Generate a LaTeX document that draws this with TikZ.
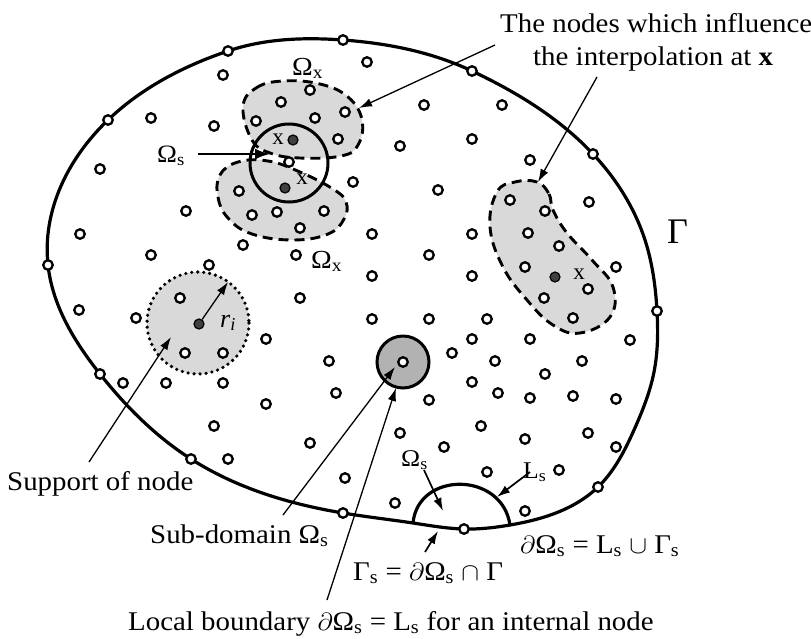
\documentclass[tikz,border=0pt]{standalone}
\usepackage{fontspec}
\setmainfont{Liberation Serif}
\usetikzlibrary{arrows.meta,hobby}
\newcommand\sx[1]{\scalebox{1.07}[1]{#1}}
\newcommand\sbs{\textsubscript{s}}
\begin{document}
\begin{tikzpicture}[x=1pt,y=-1pt,
  pt/.style={circle,draw,fill=white,line width=2.3pt,inner sep=0pt,minimum size=9.5pt},
  fpt/.style={circle,draw,fill=black!75,line width=1.2pt,inner sep=0pt,minimum size=10pt},
  lbl/.style={inner sep=0pt,anchor=base west,font=\fontsize{27}{30}\selectfont},
  sml/.style={inner sep=0pt,anchor=base west,font=\fontsize{24}{26}\selectfont},
  arr/.style={-{Latex[length=13pt,width=8.5pt]},line width=1.3pt},
  bnd/.style={line width=3.2pt},
  blob/.style={fill=black!15,line width=2.9pt,dash pattern=on 10pt off 6pt},
]
\useasboundingbox (0,0) rectangle (811,638);

% shaded influence domains
\draw[blob] plot[smooth cycle,tension=0.7] coordinates {(243,107) (256,88) (283,81) (320,84) (348,97) (362,120) (358,145) (341,156) (300,158) (270,153) (252,140)};
\draw[blob] plot[smooth cycle,tension=0.7] coordinates {(220,175) (218,197) (228,218) (252,234) (293,240) (328,234) (344,219) (346,202) (333,189) (300,172) (268,161) (238,162)};
\draw[blob] plot[smooth cycle,tension=0.7] coordinates {(537,182) (549,194) (553,210) (567,233) (592,260) (613,287) (610,317) (580,333) (553,325) (527,300) (503,267) (490,227) (497,192) (515,182)};

% support of node
\draw[fill=black!15,line width=3.6pt,line cap=round,dash pattern=on 0pt off 6pt] (198,323) circle[radius=51];

% sub-domain
\draw[fill=black!30,line width=3pt] (403,362) circle[radius=26];

% quadrature sub-domain Omega_s
\draw[line width=3pt] (289,163) circle[radius=39];

% global boundary Gamma
\coordinate (fL) at (413,523);
\coordinate (fR) at (510,525);
\draw[bnd,use Hobby shortcut,closed=true] (343,40) .. (472,71) .. (593,154) .. (645,240) .. (657,311) .. (654,372) .. (634,430) .. (598,487) .. (510,525) .. (464,529) .. (413,523) .. (343,513) .. (191,459) .. (100,374) .. (48,265) .. (108,120) .. (228,51);
\draw[bnd] (fL) .. controls (418,471) and (502,471) .. (fR);

% boundary nodes
\foreach \p [count=\i] in {(228,51),(343,40),(472,71),(593,154),(657,311),(598,487),(464,529),(343,513),(191,459),(100,374),(48,265),(108,120)}
  \node[pt] (b\i) at \p {};

% interior nodes
\foreach \p [count=\i] in {(223,75),(367,62),(310,90),(281,102),(424,105),(502,105),(151,118),(214,126),(256,121),(315,118),(345,112),(338,139),(472,139),(400,146),(530,160),(100,169),(353,182),(438,190),(289,162),(239,191),(186,211),(252,215),(277,212),(324,211),(300,228),(510,200),(545,211),(589,202),(80,234),(372,234),(472,234),(528,233),(559,246),(151,255),(243,245),(296,255),(429,255),(209,265),(372,276),(472,276),(525,267),(616,267),(588,289),(544,298),(573,318),(180,298),(300,298),(79,310),(136,318),(372,319),(429,319),(487,319),(266,339),(472,339),(530,339),(630,340),(185,353),(223,353),(452,353),(403,362),(329,361),(495,361),(582,361),(123,383),(166,383),(223,383),(472,382),(545,374),(336,393),(429,400),(498,393),(530,398),(573,396),(616,399),(266,404),(214,426),(481,426),(400,433),(525,439),(588,433),(444,447),(310,443),(228,459),(616,447),(345,478),(487,472),(559,470),(395,503),(525,511)}
  \node[pt] (n\i) at \p {};

% evaluation points x and support centre
\node[fpt] (xa) at (293,140) {};
\node[fpt] (xb) at (285,188) {};
\node[fpt] (xc) at (555,277) {};
\node[fpt] (fS) at (199,324) {};

% labels
\node[lbl] (top1) at (500,32) {\sx{The nodes which influence}};
\node[lbl] (top2) at (533,65) {\sx{the interpolation at \textbf{x}}};
\node[lbl,font=\fontsize{26}{28}\selectfont] (oxa) at (292,75) {\sx{Ω\textsubscript{x}}};
\node[lbl,font=\fontsize{26}{28}\selectfont] (oxb) at (311,268) {\sx{Ω\textsubscript{x}}};
\node[lbl,font=\fontsize{25}{28}\selectfont] (osl) at (157,162) {\sx{Ω\sbs}};
\node[inner sep=0pt,font=\fontsize{23}{25}\selectfont] (lxa) at (278,139) {x};
\node[inner sep=0pt,font=\fontsize{23}{25}\selectfont] (lxb) at (302,179) {x};
\node[inner sep=0pt,font=\fontsize{23}{25}\selectfont] (lxc) at (579,274) {x};
\node[lbl,font=\fontsize{36}{40}\selectfont] (gam) at (667,243) {Γ};
\node[lbl,font=\fontsize{26}{28}\selectfont\itshape] (ri) at (220,327) {r\textsubscript{i}};
\node[lbl] (sup) at (7,490) {\sx{Support of node}};
\node[lbl] (sub) at (150,543) {\sx{Sub-domain Ω\sbs}};
\node[lbl] (gs) at (353,580) {\sx{Γ\sbs{} = $\partial$Ω\sbs{} $\cap$ Γ}};
\node[lbl] (dos) at (520,553) {\sx{$\partial$Ω\sbs{} = L\sbs{} $\cup$ Γ\sbs}};
\node[lbl] (loc) at (128,630) {\sx{Local boundary $\partial$Ω\sbs{} = L\sbs{} for an internal node}};
\node[sml] (osb) at (401,466) {\sx{Ω\sbs}};
\node[sml] (lsb) at (523,478) {\sx{L\sbs}};

% arrows
\coordinate (t1) at (495,45);  \coordinate (h1) at (359,108);
\coordinate (t2) at (597,77);  \coordinate (h2) at (538,182);
\coordinate (t3) at (198,154); \coordinate (h3) at (270,154);
\coordinate (t4) at (89,462);  \coordinate (h4) at (171,337);
\coordinate (h5) at (228,282);
\coordinate (t6) at (283,515); \coordinate (h6) at (395,367);
\coordinate (t7) at (327,600); \coordinate (h7) at (396,388);
\coordinate (t8) at (424,470); \coordinate (h8) at (443,511);
\coordinate (t9) at (530,472); \coordinate (h9) at (497,497);
\coordinate (t10) at (425,552); \coordinate (h10) at (438,531);
\draw[arr] (t1) -- (h1);
\draw[arr] (t2) -- (h2);
\draw[-{Latex[length=15pt,width=11pt]},line width=2.4pt] (t3) -- (h3);
\draw[arr] (t4) -- (h4);
\draw[arr] (fS) -- (h5);
\draw[arr] (t6) -- (h6);
\draw[arr] (t7) -- (h7);
\draw[arr,line width=1.7pt] (t8) -- (h8);
\draw[arr,line width=1.7pt] (t9) -- (h9);
\draw[arr,line width=1.7pt] (t10) -- (h10);
\end{tikzpicture}
\end{document}
